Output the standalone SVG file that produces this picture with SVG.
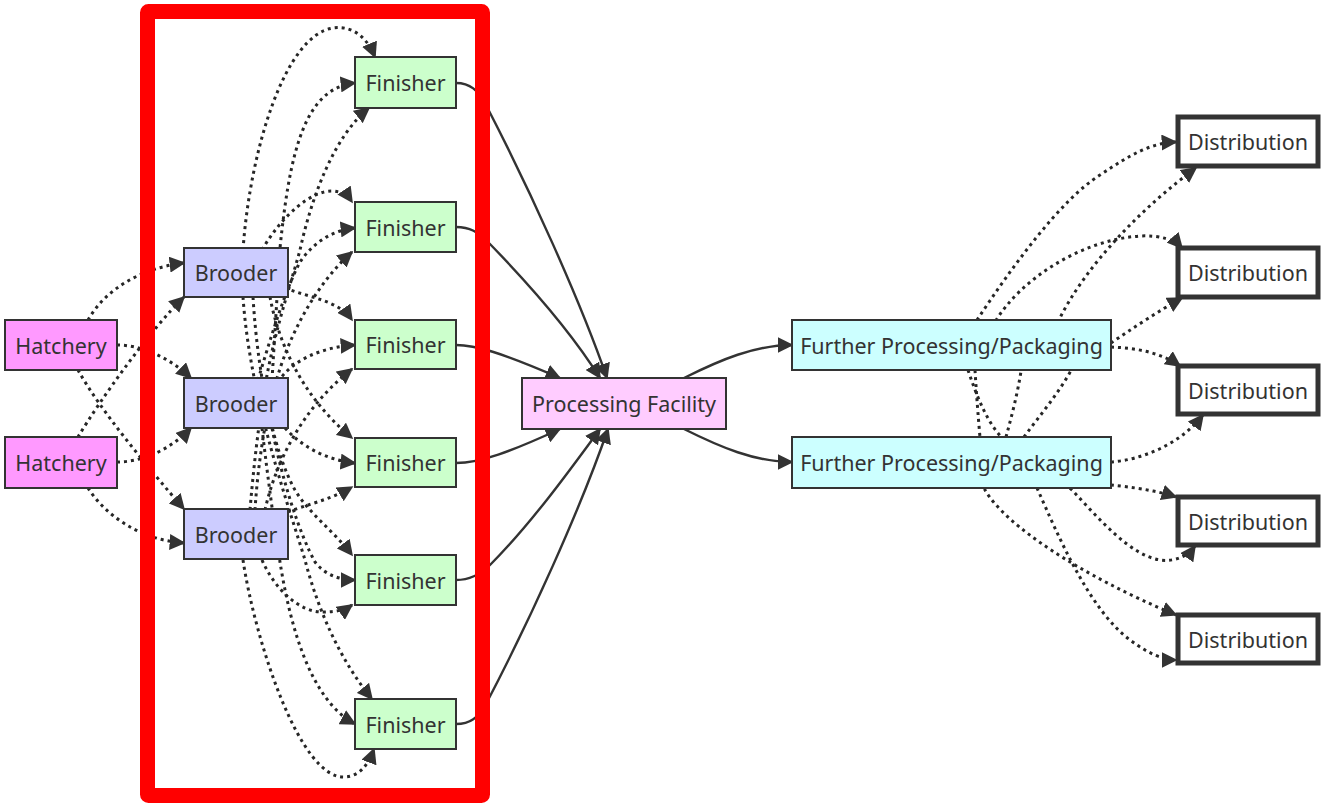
<svg xmlns="http://www.w3.org/2000/svg" width="1325" height="808" viewBox="0 0 1325 808">
<defs>
<marker id="arr" viewBox="0 0 10 10" refX="9" refY="5" markerWidth="16" markerHeight="16" markerUnits="userSpaceOnUse" orient="auto"><path d="M0,0 L10,5 L0,10 z" fill="#333" stroke="none"/></marker>
<style>
.dot{fill:none;stroke:#262626;stroke-width:3;stroke-dasharray:3 4;marker-end:url(#arr)}
.sol{fill:none;stroke:#333;stroke-width:2.4;marker-end:url(#arr)}
.n rect{stroke:#333;stroke-width:2}
.n text{font-family:"Noto Sans","Open Sans","DejaVu Sans",sans-serif;font-size:21.5px;fill:#333;text-anchor:middle;dominant-baseline:central}
.hat rect{fill:#ff99ff}
.bro rect{fill:#ccccff}
.fin rect{fill:#ccffcc}
.pf rect{fill:#ffccff}
.fp rect{fill:#ccffff}
.dis rect{fill:#ffffff;stroke-width:5}
</style>
</defs>
<rect width="1325" height="808" fill="#fff"/>
<g id="connectors">
<path class="dot" d="M88,320 C105,290 140,268 184,263"/>
<path class="dot" d="M117,345 C142,345 170,358 191,378"/>
<path class="dot" d="M78,370 C100,410 150,470 184,509"/>
<path class="dot" d="M78,437 C100,400 150,330 184,297"/>
<path class="dot" d="M117,462 C142,462 170,450 191,428"/>
<path class="dot" d="M88,488 C105,515 140,540 184,543"/>
<path class="dot" d="M243,250 C250,150 285,35 333,28 C355,25 368,40 375,57"/>
<path class="dot" d="M272,380 L280,248 C290,150 305,88 355,83"/>
<path class="dot" d="M250,510 C255,450 262,400 268,370 C278,320 292,280 300,250 C312,195 335,135 369,108"/>
<path class="dot" d="M262,250 C282,215 312,190 333,191 C343,192 348,196 352,202"/>
<path class="dot" d="M258,380 C270,340 285,290 300,262 C315,240 335,230 355,228"/>
<path class="dot" d="M255,510 C258,460 268,400 278,375 C290,335 315,285 352,252"/>
<path class="dot" d="M285,288 C310,298 338,300 352,320"/>
<path class="dot" d="M278,382 C292,360 322,347 355,345"/>
<path class="dot" d="M265,510 C275,465 300,410 352,369"/>
<path class="dot" d="M270,297 C278,340 300,395 352,438"/>
<path class="dot" d="M285,428 C300,445 325,460 355,463"/>
<path class="dot" d="M288,512 C305,505 330,500 352,487"/>
<path class="dot" d="M253,297 C258,380 275,455 295,490 C310,515 333,530 352,555"/>
<path class="dot" d="M272,428 C282,480 300,535 315,562 C325,575 340,580 355,580"/>
<path class="dot" d="M262,560 C275,590 300,612 322,612 C336,612 345,610 352,605"/>
<path class="dot" d="M243,297 C250,400 290,510 305,560 C318,610 340,660 372,699"/>
<path class="dot" d="M262,428 C268,480 275,530 280,562 C290,625 310,700 355,724"/>
<path class="dot" d="M243,560 C255,640 300,780 345,777 C360,776 368,765 374,749"/>
<path class="sol" d="M456,83 C470,83 478,90 486,105 C530,190 580,300 607,378"/>
<path class="sol" d="M456,227 C470,227 478,232 488,242 C530,285 570,330 600,378"/>
<path class="sol" d="M456,345 C475,345 500,352 560,378"/>
<path class="sol" d="M456,463 C480,463 510,452 560,429"/>
<path class="sol" d="M456,580 C470,580 480,575 490,565 C530,525 570,470 600,429"/>
<path class="sol" d="M456,724 C470,724 478,718 486,704 C530,620 580,510 608,429"/>
<path class="sol" d="M684,378 C720,360 755,345 792,345"/>
<path class="sol" d="M684,429 C720,447 755,462 792,462"/>
<path class="dot" d="M977,320 C1010,270 1060,200 1100,175 C1130,155 1150,143 1176,142"/>
<path class="dot" d="M1024,437 C1040,415 1060,392 1074,365 L1058,322 C1085,265 1145,205 1196,168"/>
<path class="dot" d="M1111,343 C1130,330 1160,310 1182,298"/>
<path class="dot" d="M1006,437 C1012,415 1018,392 1022,365 L995,322 C1020,280 1080,240 1140,236 C1160,235 1175,240 1182,248"/>
<path class="dot" d="M1111,347 C1135,348 1160,352 1180,366"/>
<path class="dot" d="M1111,462 C1140,460 1180,445 1203,415"/>
<path class="dot" d="M1111,485 C1130,487 1155,490 1176,497"/>
<path class="dot" d="M968,370 C978,400 990,430 1010,445 C1040,470 1060,480 1072,490 C1100,520 1130,555 1160,560 C1175,562 1188,556 1195,546"/>
<path class="dot" d="M975,370 C978,420 982,460 985,490 C1005,525 1080,575 1176,615"/>
<path class="dot" d="M1037,488 C1060,540 1090,610 1130,640 C1150,655 1165,660 1176,660"/>
</g>
<g id="hatchery1" class="n hat"><rect x="5" y="320" width="112" height="50"/><text x="61" y="345">Hatchery</text></g>
<g id="hatchery2" class="n hat"><rect x="5" y="437" width="112" height="51"/><text x="61" y="462.5">Hatchery</text></g>
<g id="brooder1" class="n bro"><rect x="184" y="248" width="104" height="49"/><text x="236" y="272.5">Brooder</text></g>
<g id="brooder2" class="n bro"><rect x="184" y="378" width="104" height="50"/><text x="236" y="403">Brooder</text></g>
<g id="brooder3" class="n bro"><rect x="184" y="509" width="104" height="50"/><text x="236" y="534">Brooder</text></g>
<g id="finisher1" class="n fin"><rect x="355" y="57" width="101" height="51"/><text x="405.5" y="82.5">Finisher</text></g>
<g id="finisher2" class="n fin"><rect x="355" y="202" width="101" height="50"/><text x="405.5" y="227">Finisher</text></g>
<g id="finisher3" class="n fin"><rect x="355" y="320" width="101" height="49"/><text x="405.5" y="344.5">Finisher</text></g>
<g id="finisher4" class="n fin"><rect x="355" y="438" width="101" height="49"/><text x="405.5" y="462.5">Finisher</text></g>
<g id="finisher5" class="n fin"><rect x="355" y="555" width="101" height="50"/><text x="405.5" y="580">Finisher</text></g>
<g id="finisher6" class="n fin"><rect x="355" y="699" width="101" height="50"/><text x="405.5" y="724">Finisher</text></g>
<g id="processing" class="n pf"><rect x="522" y="378" width="204" height="51"/><text x="624" y="403.5">Processing Facility</text></g>
<g id="further1" class="n fp"><rect x="792" y="320" width="319" height="50"/><text x="951.5" y="345">Further Processing/Packaging</text></g>
<g id="further2" class="n fp"><rect x="792" y="437" width="319" height="51"/><text x="951.5" y="462.5">Further Processing/Packaging</text></g>
<g id="dist1" class="n dis"><rect x="1178" y="117" width="140" height="49"/><text x="1248" y="141.5">Distribution</text></g>
<g id="dist2" class="n dis"><rect x="1178" y="248" width="140" height="49"/><text x="1248" y="272.5">Distribution</text></g>
<g id="dist3" class="n dis"><rect x="1178" y="366" width="140" height="48"/><text x="1248" y="390">Distribution</text></g>
<g id="dist4" class="n dis"><rect x="1178" y="497" width="140" height="48"/><text x="1248" y="521">Distribution</text></g>
<g id="dist5" class="n dis"><rect x="1178" y="615" width="140" height="48"/><text x="1248" y="639">Distribution</text></g>
<rect id="highlight" x="147.5" y="11.5" width="335" height="784" rx="1" fill="none" stroke="#ff0000" stroke-width="15"/>
</svg>
